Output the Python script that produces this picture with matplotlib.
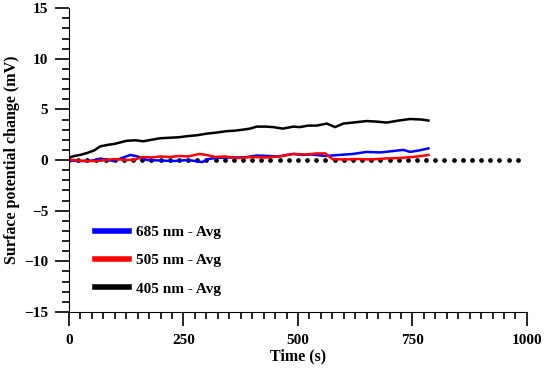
import numpy as np
import matplotlib.pyplot as plt
from matplotlib.ticker import MultipleLocator

# time axis (s) and readings (mV)
t_405 = [0, 12, 24, 40, 55, 68, 85, 100, 126, 145, 162, 180, 199, 220, 240, 257, 280, 300,
         320, 344, 362, 380, 395, 410, 430, 446, 467, 490, 504, 522, 541, 563, 581, 599,
         620, 650, 670, 694, 720, 745, 770, 785]
v_405 = [0.25, 0.4, 0.5, 0.7, 0.95, 1.35, 1.5, 1.6, 1.9, 1.95, 1.85, 2.0, 2.15, 2.2, 2.25,
         2.35, 2.45, 2.6, 2.7, 2.85, 2.9, 3.0, 3.1, 3.3, 3.3, 3.25, 3.1, 3.3, 3.25, 3.4, 3.4,
         3.6, 3.25, 3.6, 3.7, 3.85, 3.8, 3.7, 3.9, 4.05, 4.0, 3.9]

t_505 = [0, 20, 40, 60, 80, 100, 126, 145, 160, 180, 200, 220, 240, 260, 285, 300, 320,
         340, 370, 400, 430, 460, 490, 520, 540, 560, 575, 600, 630, 660, 690, 720, 750,
         770, 785]
v_505 = [0.05, -0.05, -0.1, -0.1, 0.0, 0.1, 0.0, 0.05, 0.3, 0.25, 0.35, 0.3, 0.4, 0.35, 0.6,
         0.5, 0.3, 0.35, 0.2, 0.3, 0.25, 0.35, 0.6, 0.55, 0.65, 0.65, 0.1, 0.05, 0.1, 0.05,
         0.15, 0.2, 0.3, 0.4, 0.5]

t_685 = [0, 20, 40, 60, 68, 85, 97, 115, 134, 150, 170, 200, 228, 260, 291, 305, 320, 345,
         370, 390, 410, 435, 457, 475, 490, 510, 530, 560, 590, 620, 650, 680, 710, 730, 745,
         765, 785]
v_685 = [-0.05, -0.1, -0.1, 0.0, 0.15, 0.0, -0.1, 0.2, 0.5, 0.35, 0.0, -0.05, -0.1, 0.0,
         -0.2, 0.1, 0.2, 0.25, 0.25, 0.3, 0.45, 0.4, 0.35, 0.5, 0.6, 0.5, 0.55, 0.4, 0.5, 0.6,
         0.8, 0.75, 0.9, 1.0, 0.8, 0.95, 1.15]

zero_t = np.arange(0, 1000, 20)

plt.rcParams['font.family'] = ['Liberation Serif', 'DejaVu Serif']
plt.rcParams['font.weight'] = 'bold'

fig = plt.figure(figsize=(5.5, 3.7), dpi=100)
ax = fig.add_axes([0.1255, 0.157, 0.8325, 0.821])

ax.plot(zero_t, np.zeros(len(zero_t)), linestyle='none', marker='o', markersize=2.4,
        color='black')
ax.plot(t_685, v_685, color='#0000ff', lw=1.8, label='685 nm - Avg')
ax.plot(t_505, v_505, color='#ff0000', lw=1.8, label='505 nm - Avg')
ax.plot(t_405, v_405, color='black', lw=1.8, label='405 nm - Avg')

ax.set_xlim(0, 1000)
ax.set_ylim(-15, 15)
ax.spines['top'].set_visible(False)
ax.spines['right'].set_visible(False)

ax.xaxis.set_major_locator(MultipleLocator(250))
ax.xaxis.set_minor_locator(MultipleLocator(25))
ax.yaxis.set_major_locator(MultipleLocator(5))
ax.yaxis.set_minor_locator(MultipleLocator(1))
ax.tick_params(which='major', length=10, width=1.2, labelsize=11)
ax.tick_params(which='minor', length=5, width=1.2)
ax.tick_params(axis='x', which='major', pad=6)
ax.tick_params(axis='y', which='major', pad=5)

ax.set_xlabel('Time (s)', fontsize=11.5, fontweight='bold', labelpad=1)
ax.set_ylabel('Surface potential change (mV)', fontsize=11.5, fontweight='bold', labelpad=3)

leg = ax.legend(loc='upper left', bbox_to_anchor=(0.027, 0.33), frameon=False,
                handlelength=2.2, handletextpad=0.5, labelspacing=0.95,
                prop={'size': 11, 'weight': 'bold'})
for h in leg.get_lines():
    h.set_linewidth(4)

fig.savefig('out.png', dpi=100)
